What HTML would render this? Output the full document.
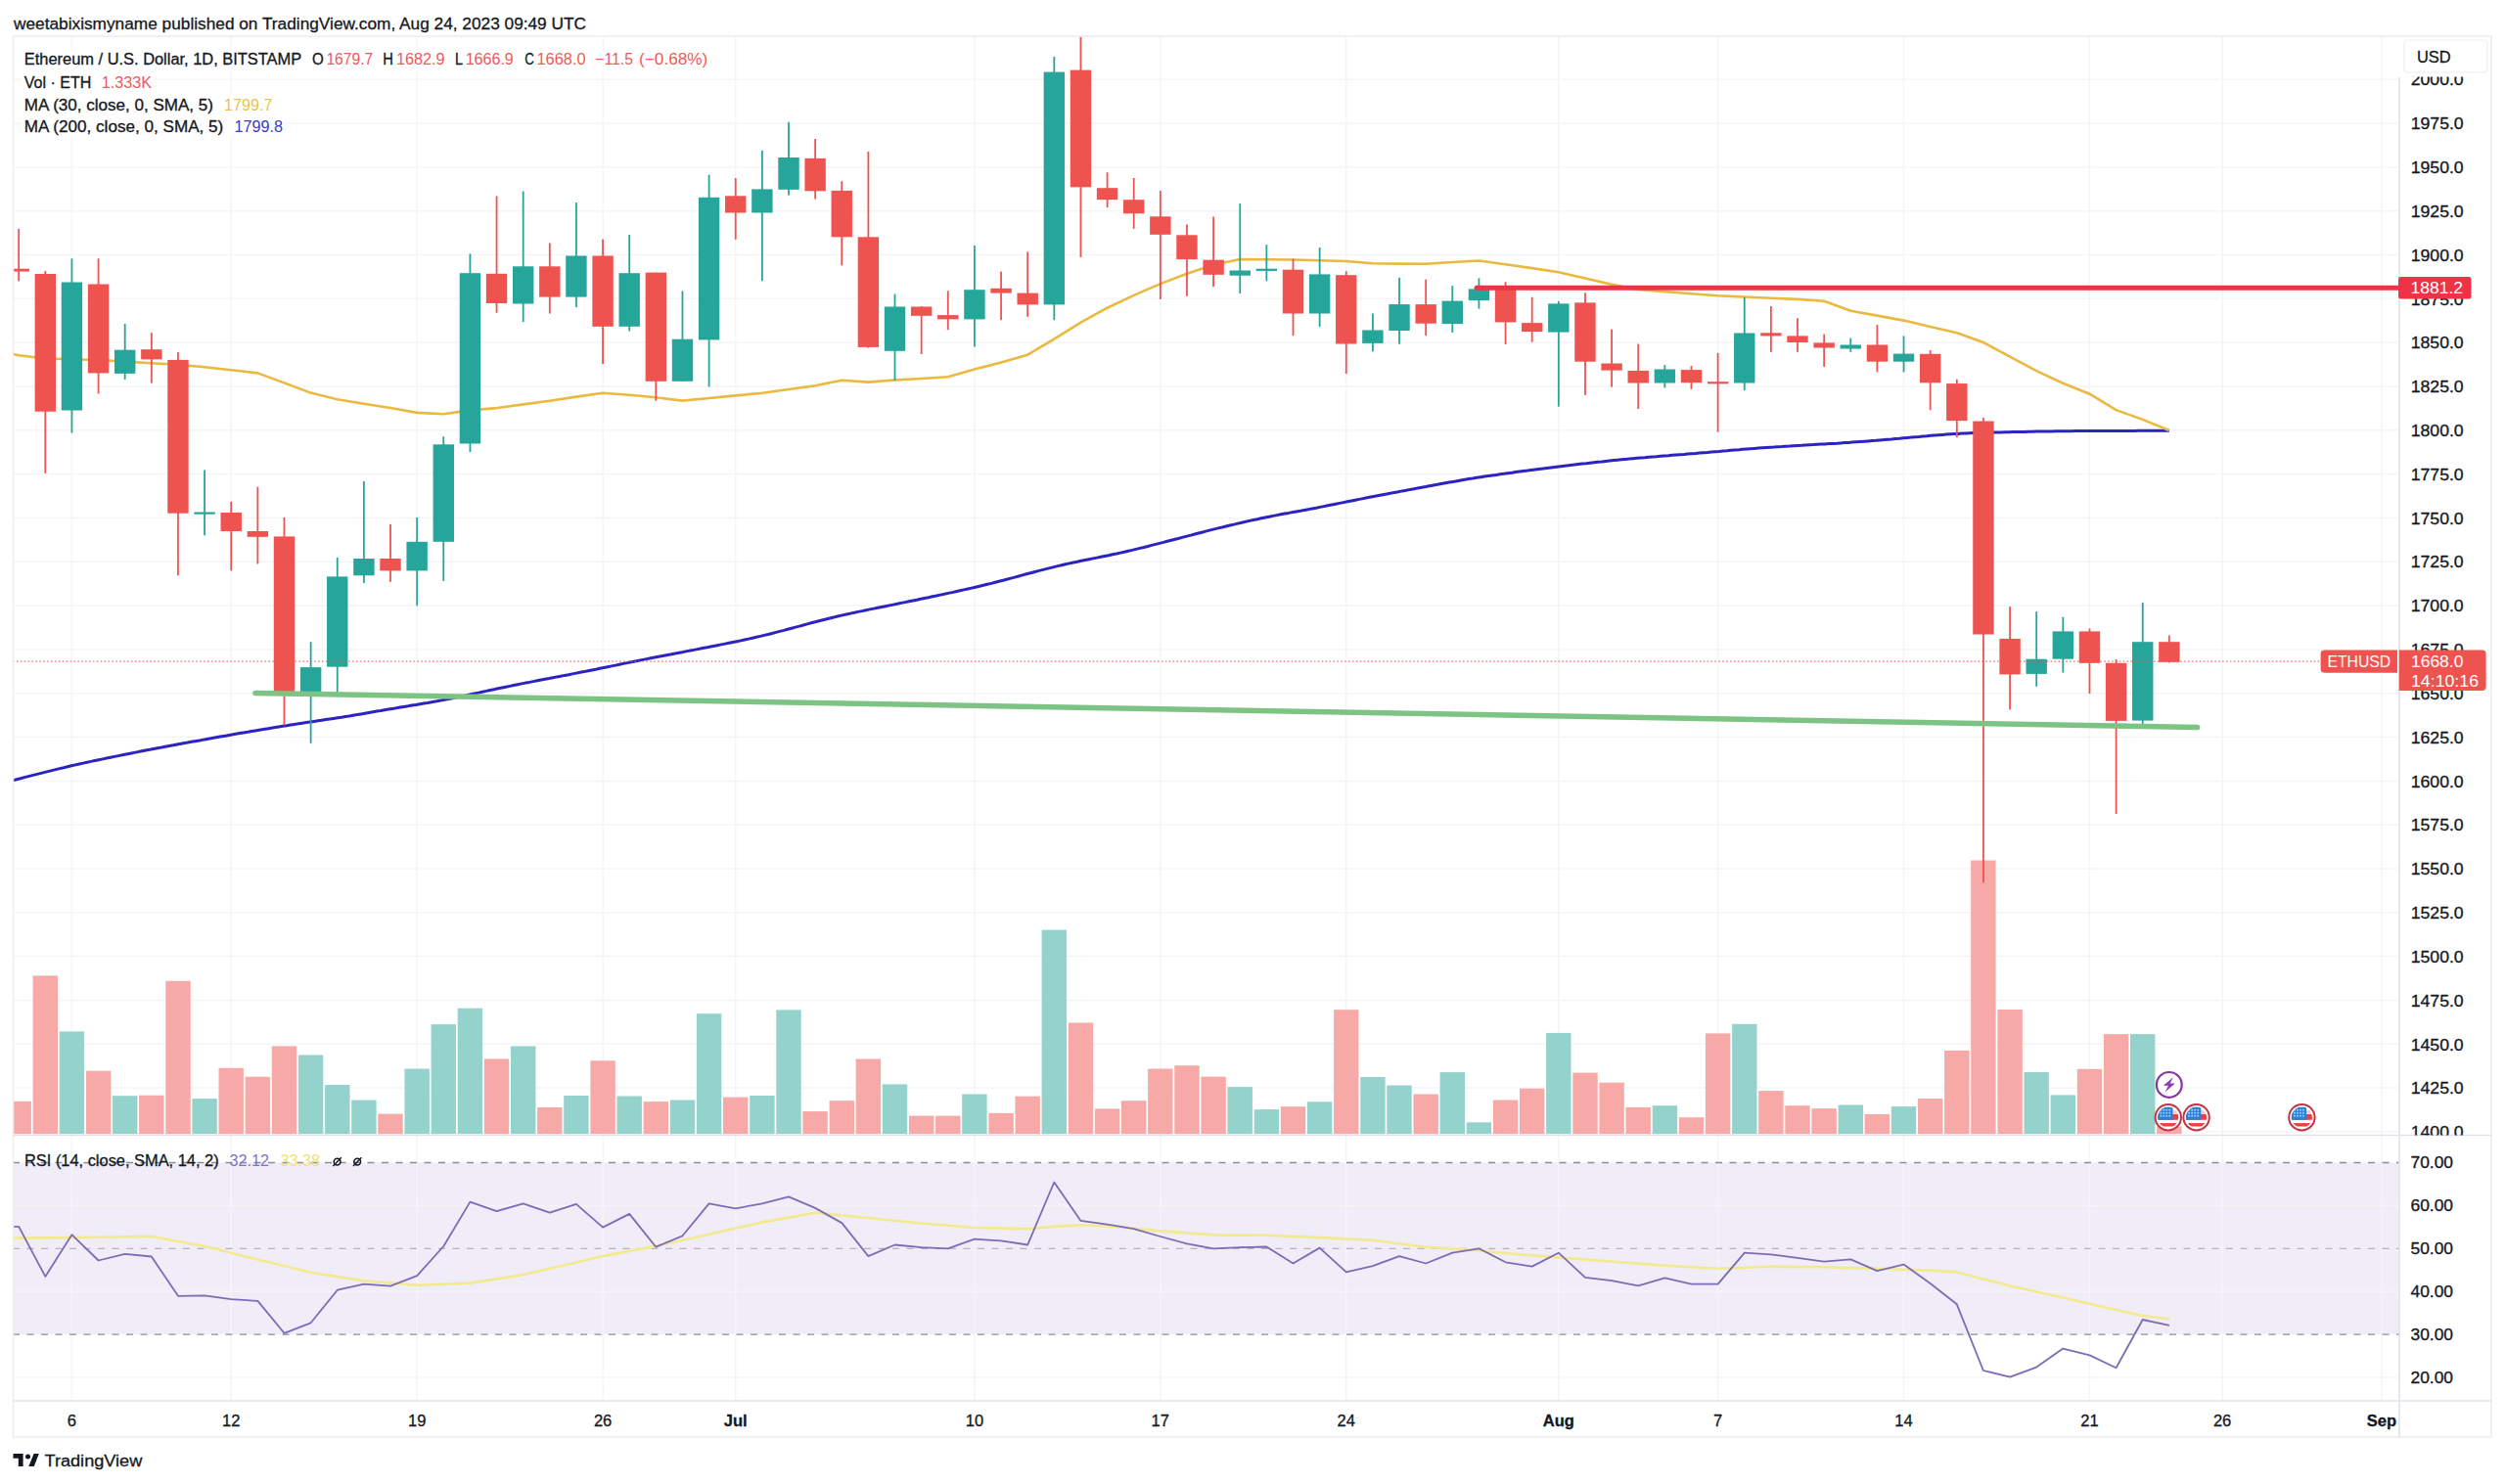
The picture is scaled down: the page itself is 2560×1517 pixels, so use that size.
<!DOCTYPE html>
<html><head><meta charset="utf-8"><style>html,body{margin:0;padding:0;background:#fff;width:2560px;height:1517px;overflow:hidden}svg{display:block}</style></head>
<body>
<svg width="2560" height="1517" viewBox="0 0 2560 1517" font-family="Liberation Sans, sans-serif">
<defs><style>text{paint-order:stroke;stroke-width:0.3px;stroke-linejoin:round}</style>
<clipPath id="cp"><rect x="13" y="37" width="2439" height="1123.5"/></clipPath>
<clipPath id="cr"><rect x="13" y="1161" width="2439" height="271"/></clipPath>
<clipPath id="ax"><rect x="2453" y="37" width="93" height="1123.5"/></clipPath>
</defs>
<rect width="2560" height="1517" fill="#ffffff"/>
<text x="14" y="29.5" font-size="17.2" fill="#131722" stroke="#131722" textLength="585" lengthAdjust="spacingAndGlyphs">weetabixismyname published on TradingView.com, Aug 24, 2023 09:49 UTC</text>
<rect x="13" y="1188.5" width="2439" height="175.6" fill="#f0ecf8"/>
<path d="M13 81.2H2452 M13 126.0H2452 M13 170.8H2452 M13 215.7H2452 M13 260.5H2452 M13 305.3H2452 M13 350.1H2452 M13 395.0H2452 M13 439.8H2452 M13 484.6H2452 M13 529.4H2452 M13 574.2H2452 M13 619.1H2452 M13 663.9H2452 M13 708.7H2452 M13 753.5H2452 M13 798.4H2452 M13 843.2H2452 M13 888.0H2452 M13 932.8H2452 M13 977.6H2452 M13 1022.5H2452 M13 1067.3H2452 M13 1112.1H2452 M13 1156.9H2452 M13 1232.4H2452 M13 1320.2H2452 M13 1408.0H2452 M73.4 37V1432 M236.2 37V1432 M426.2 37V1432 M616.1 37V1432 M751.7 37V1432 M995.9 37V1432 M1185.8 37V1432 M1375.8 37V1432 M1592.8 37V1432 M1755.6 37V1432 M1945.5 37V1432 M2135.5 37V1432 M2271.1 37V1432 M2433.9 37V1432" stroke="#f5f5f7" stroke-width="1.5" fill="none"/>
<rect x="22" y="49.9" width="705" height="22.6" fill="#ffffff"/>
<rect x="22" y="73.0" width="135" height="22.6" fill="#ffffff"/>
<rect x="22" y="96.1" width="259" height="22.6" fill="#ffffff"/>
<rect x="22" y="118.7" width="270" height="22.6" fill="#ffffff"/>
<path d="M13 1188.5H2452" stroke="#8a8d96" stroke-width="1.3" stroke-dasharray="7 7.5" fill="none"/>
<path d="M13 1276.3H2452" stroke="#b4b3bd" stroke-width="1.3" stroke-dasharray="7 7.5" fill="none"/>
<path d="M13 1364.1H2452" stroke="#8a8d96" stroke-width="1.3" stroke-dasharray="7 7.5" fill="none"/>
<g clip-path="url(#cp)">
<rect x="6.5" y="1125.8" width="25.4" height="33.4" fill="#f7a9a7"/>
<rect x="33.6" y="997.4" width="25.4" height="161.8" fill="#f7a9a7"/>
<rect x="60.7" y="1054.4" width="25.4" height="104.8" fill="#94d2cc"/>
<rect x="87.9" y="1094.7" width="25.4" height="64.5" fill="#f7a9a7"/>
<rect x="115.0" y="1120.2" width="25.4" height="39.0" fill="#94d2cc"/>
<rect x="142.1" y="1119.7" width="25.4" height="39.5" fill="#f7a9a7"/>
<rect x="169.3" y="1002.8" width="25.4" height="156.4" fill="#f7a9a7"/>
<rect x="196.4" y="1123.1" width="25.4" height="36.1" fill="#94d2cc"/>
<rect x="223.5" y="1091.8" width="25.4" height="67.4" fill="#f7a9a7"/>
<rect x="250.7" y="1100.7" width="25.4" height="58.5" fill="#f7a9a7"/>
<rect x="277.8" y="1069.4" width="25.4" height="89.8" fill="#f7a9a7"/>
<rect x="304.9" y="1078.4" width="25.4" height="80.8" fill="#94d2cc"/>
<rect x="332.1" y="1109.0" width="25.4" height="50.2" fill="#94d2cc"/>
<rect x="359.2" y="1124.6" width="25.4" height="34.6" fill="#94d2cc"/>
<rect x="386.3" y="1138.7" width="25.4" height="20.5" fill="#f7a9a7"/>
<rect x="413.5" y="1092.5" width="25.4" height="66.7" fill="#94d2cc"/>
<rect x="440.6" y="1047.1" width="25.4" height="112.1" fill="#94d2cc"/>
<rect x="467.7" y="1030.7" width="25.4" height="128.5" fill="#94d2cc"/>
<rect x="494.8" y="1082.4" width="25.4" height="76.8" fill="#f7a9a7"/>
<rect x="522.0" y="1069.4" width="25.4" height="89.8" fill="#94d2cc"/>
<rect x="549.1" y="1132.0" width="25.4" height="27.2" fill="#f7a9a7"/>
<rect x="576.2" y="1120.0" width="25.4" height="39.2" fill="#94d2cc"/>
<rect x="603.4" y="1084.3" width="25.4" height="74.9" fill="#f7a9a7"/>
<rect x="630.5" y="1120.5" width="25.4" height="38.7" fill="#94d2cc"/>
<rect x="657.6" y="1126.1" width="25.4" height="33.1" fill="#f7a9a7"/>
<rect x="684.8" y="1124.5" width="25.4" height="34.7" fill="#94d2cc"/>
<rect x="711.9" y="1036.2" width="25.4" height="123.0" fill="#94d2cc"/>
<rect x="739.0" y="1121.6" width="25.4" height="37.6" fill="#f7a9a7"/>
<rect x="766.2" y="1120.0" width="25.4" height="39.2" fill="#94d2cc"/>
<rect x="793.3" y="1032.4" width="25.4" height="126.8" fill="#94d2cc"/>
<rect x="820.4" y="1136.1" width="25.4" height="23.1" fill="#f7a9a7"/>
<rect x="847.6" y="1125.2" width="25.4" height="34.0" fill="#f7a9a7"/>
<rect x="874.7" y="1082.5" width="25.4" height="76.7" fill="#f7a9a7"/>
<rect x="901.8" y="1108.4" width="25.4" height="50.8" fill="#94d2cc"/>
<rect x="929.0" y="1140.6" width="25.4" height="18.6" fill="#f7a9a7"/>
<rect x="956.1" y="1140.6" width="25.4" height="18.6" fill="#f7a9a7"/>
<rect x="983.2" y="1118.5" width="25.4" height="40.7" fill="#94d2cc"/>
<rect x="1010.4" y="1137.9" width="25.4" height="21.3" fill="#f7a9a7"/>
<rect x="1037.5" y="1120.7" width="25.4" height="38.5" fill="#f7a9a7"/>
<rect x="1064.6" y="950.6" width="25.4" height="208.6" fill="#94d2cc"/>
<rect x="1091.8" y="1045.5" width="25.4" height="113.7" fill="#f7a9a7"/>
<rect x="1118.9" y="1133.4" width="25.4" height="25.8" fill="#f7a9a7"/>
<rect x="1146.0" y="1125.2" width="25.4" height="34.0" fill="#f7a9a7"/>
<rect x="1173.1" y="1092.5" width="25.4" height="66.7" fill="#f7a9a7"/>
<rect x="1200.3" y="1089.2" width="25.4" height="70.0" fill="#f7a9a7"/>
<rect x="1227.4" y="1100.6" width="25.4" height="58.6" fill="#f7a9a7"/>
<rect x="1254.5" y="1111.1" width="25.4" height="48.1" fill="#94d2cc"/>
<rect x="1281.7" y="1134.1" width="25.4" height="25.1" fill="#94d2cc"/>
<rect x="1308.8" y="1131.2" width="25.4" height="28.0" fill="#f7a9a7"/>
<rect x="1335.9" y="1126.3" width="25.4" height="32.9" fill="#94d2cc"/>
<rect x="1363.1" y="1032.2" width="25.4" height="127.0" fill="#f7a9a7"/>
<rect x="1390.2" y="1101.0" width="25.4" height="58.2" fill="#94d2cc"/>
<rect x="1417.3" y="1109.5" width="25.4" height="49.7" fill="#94d2cc"/>
<rect x="1444.5" y="1118.5" width="25.4" height="40.7" fill="#f7a9a7"/>
<rect x="1471.6" y="1096.1" width="25.4" height="63.1" fill="#94d2cc"/>
<rect x="1498.7" y="1147.3" width="25.4" height="11.9" fill="#94d2cc"/>
<rect x="1525.9" y="1124.5" width="25.4" height="34.7" fill="#f7a9a7"/>
<rect x="1553.0" y="1112.7" width="25.4" height="46.5" fill="#f7a9a7"/>
<rect x="1580.1" y="1055.9" width="25.4" height="103.3" fill="#94d2cc"/>
<rect x="1607.3" y="1096.6" width="25.4" height="62.6" fill="#f7a9a7"/>
<rect x="1634.4" y="1106.7" width="25.4" height="52.5" fill="#f7a9a7"/>
<rect x="1661.5" y="1131.9" width="25.4" height="27.3" fill="#f7a9a7"/>
<rect x="1688.7" y="1130.2" width="25.4" height="29.0" fill="#94d2cc"/>
<rect x="1715.8" y="1142.2" width="25.4" height="17.0" fill="#f7a9a7"/>
<rect x="1742.9" y="1056.4" width="25.4" height="102.8" fill="#f7a9a7"/>
<rect x="1770.1" y="1046.8" width="25.4" height="112.4" fill="#94d2cc"/>
<rect x="1797.2" y="1115.1" width="25.4" height="44.1" fill="#f7a9a7"/>
<rect x="1824.3" y="1130.2" width="25.4" height="29.0" fill="#f7a9a7"/>
<rect x="1851.4" y="1133.1" width="25.4" height="26.1" fill="#f7a9a7"/>
<rect x="1878.6" y="1129.5" width="25.4" height="29.7" fill="#94d2cc"/>
<rect x="1905.7" y="1139.0" width="25.4" height="20.2" fill="#f7a9a7"/>
<rect x="1932.8" y="1131.1" width="25.4" height="28.1" fill="#94d2cc"/>
<rect x="1960.0" y="1123.0" width="25.4" height="36.2" fill="#f7a9a7"/>
<rect x="1987.1" y="1073.9" width="25.4" height="85.3" fill="#f7a9a7"/>
<rect x="2014.2" y="879.5" width="25.4" height="279.7" fill="#f7a9a7"/>
<rect x="2041.4" y="1032.0" width="25.4" height="127.2" fill="#f7a9a7"/>
<rect x="2068.5" y="1095.9" width="25.4" height="63.3" fill="#94d2cc"/>
<rect x="2095.6" y="1119.4" width="25.4" height="39.8" fill="#94d2cc"/>
<rect x="2122.8" y="1092.8" width="25.4" height="66.4" fill="#f7a9a7"/>
<rect x="2149.9" y="1057.1" width="25.4" height="102.1" fill="#f7a9a7"/>
<rect x="2177.0" y="1057.1" width="25.4" height="102.1" fill="#94d2cc"/>
<rect x="2204.2" y="1151.5" width="25.4" height="7.7" fill="#f7a9a7"/>
<polyline points="13.0,797.7 17.0,796.7 21.0,795.7 25.0,794.6 29.0,793.6 33.0,792.6 37.0,791.6 41.0,790.6 45.0,789.6 49.0,788.6 53.0,787.6 57.0,786.6 61.0,785.6 65.0,784.7 69.0,783.7 73.0,782.8 77.0,781.9 81.0,781.0 85.0,780.1 89.0,779.2 93.0,778.4 97.0,777.5 101.0,776.7 105.0,775.9 109.0,775.0 113.0,774.2 117.0,773.4 121.0,772.6 125.0,771.8 129.0,771.0 133.0,770.2 137.0,769.4 141.0,768.6 145.0,767.8 149.0,767.0 153.0,766.3 157.0,765.5 161.0,764.7 165.0,764.0 169.0,763.2 173.0,762.5 177.0,761.8 181.0,761.0 185.0,760.3 189.0,759.6 193.0,758.8 197.0,758.1 201.0,757.4 205.0,756.7 209.0,755.9 213.0,755.2 217.0,754.5 221.0,753.8 225.0,753.1 229.0,752.4 233.0,751.7 237.0,751.0 241.0,750.3 245.0,749.6 249.0,748.9 253.0,748.3 257.0,747.6 261.0,746.9 265.0,746.2 269.0,745.6 273.0,744.9 277.0,744.2 281.0,743.6 285.0,742.9 289.0,742.3 293.0,741.7 297.0,741.0 301.0,740.4 305.0,739.8 309.0,739.2 313.0,738.6 317.0,738.0 321.0,737.4 325.0,736.8 329.0,736.2 333.0,735.6 337.0,735.0 341.0,734.4 345.0,733.8 349.0,733.2 353.0,732.5 357.0,731.9 361.0,731.2 365.0,730.6 369.0,729.9 373.0,729.2 377.0,728.5 381.0,727.8 385.0,727.1 389.0,726.5 393.0,725.8 397.0,725.1 401.0,724.4 405.0,723.8 409.0,723.1 413.0,722.4 417.0,721.8 421.0,721.1 425.0,720.5 429.0,719.8 433.0,719.1 437.0,718.5 441.0,717.8 445.0,717.1 449.0,716.3 453.0,715.6 457.0,714.8 461.0,714.0 465.0,713.2 469.0,712.4 473.0,711.5 477.0,710.7 481.0,709.8 485.0,708.9 489.0,708.1 493.0,707.2 497.0,706.4 501.0,705.5 505.0,704.7 509.0,703.8 513.0,703.0 517.0,702.2 521.0,701.4 525.0,700.5 529.0,699.7 533.0,698.9 537.0,698.1 541.0,697.4 545.0,696.6 549.0,695.8 553.0,695.0 557.0,694.2 561.0,693.5 565.0,692.7 569.0,691.9 573.0,691.2 577.0,690.4 581.0,689.7 585.0,688.9 589.0,688.1 593.0,687.3 597.0,686.6 601.0,685.8 605.0,685.0 609.0,684.2 613.0,683.3 617.0,682.5 621.0,681.7 625.0,680.9 629.0,680.1 633.0,679.2 637.0,678.4 641.0,677.6 645.0,676.8 649.0,676.0 653.0,675.2 657.0,674.4 661.0,673.6 665.0,672.8 669.0,672.0 673.0,671.2 677.0,670.5 681.0,669.7 685.0,669.0 689.0,668.2 693.0,667.4 697.0,666.7 701.0,665.9 705.0,665.1 709.0,664.4 713.0,663.6 717.0,662.8 721.0,662.1 725.0,661.3 729.0,660.5 733.0,659.7 737.0,658.9 741.0,658.1 745.0,657.3 749.0,656.5 753.0,655.7 757.0,654.9 761.0,654.0 765.0,653.1 769.0,652.2 773.0,651.3 777.0,650.4 781.0,649.4 785.0,648.5 789.0,647.5 793.0,646.4 797.0,645.4 801.0,644.4 805.0,643.3 809.0,642.2 813.0,641.1 817.0,640.1 821.0,639.0 825.0,637.9 829.0,636.8 833.0,635.8 837.0,634.7 841.0,633.7 845.0,632.7 849.0,631.7 853.0,630.8 857.0,629.8 861.0,628.9 865.0,628.0 869.0,627.1 873.0,626.3 877.0,625.4 881.0,624.6 885.0,623.7 889.0,622.9 893.0,622.1 897.0,621.3 901.0,620.5 905.0,619.7 909.0,618.9 913.0,618.1 917.0,617.3 921.0,616.4 925.0,615.6 929.0,614.8 933.0,614.0 937.0,613.2 941.0,612.3 945.0,611.5 949.0,610.7 953.0,609.8 957.0,609.0 961.0,608.1 965.0,607.3 969.0,606.4 973.0,605.6 977.0,604.7 981.0,603.8 985.0,602.9 989.0,602.0 993.0,601.1 997.0,600.2 1001.0,599.3 1005.0,598.3 1009.0,597.3 1013.0,596.4 1017.0,595.3 1021.0,594.3 1025.0,593.3 1029.0,592.2 1033.0,591.1 1037.0,590.1 1041.0,589.0 1045.0,587.9 1049.0,586.8 1053.0,585.8 1057.0,584.7 1061.0,583.6 1065.0,582.6 1069.0,581.6 1073.0,580.6 1077.0,579.6 1081.0,578.6 1085.0,577.7 1089.0,576.8 1093.0,575.9 1097.0,575.0 1101.0,574.2 1105.0,573.3 1109.0,572.5 1113.0,571.7 1117.0,570.9 1121.0,570.1 1125.0,569.3 1129.0,568.5 1133.0,567.7 1137.0,566.8 1141.0,566.0 1145.0,565.1 1149.0,564.2 1153.0,563.3 1157.0,562.4 1161.0,561.4 1165.0,560.4 1169.0,559.5 1173.0,558.5 1177.0,557.4 1181.0,556.4 1185.0,555.4 1189.0,554.4 1193.0,553.3 1197.0,552.3 1201.0,551.2 1205.0,550.2 1209.0,549.1 1213.0,548.1 1217.0,547.1 1221.0,546.0 1225.0,545.0 1229.0,544.0 1233.0,542.9 1237.0,541.9 1241.0,540.9 1245.0,539.9 1249.0,539.0 1253.0,538.0 1257.0,537.0 1261.0,536.1 1265.0,535.1 1269.0,534.2 1273.0,533.3 1277.0,532.4 1281.0,531.5 1285.0,530.7 1289.0,529.8 1293.0,529.0 1297.0,528.2 1301.0,527.4 1305.0,526.6 1309.0,525.8 1313.0,525.1 1317.0,524.4 1321.0,523.6 1325.0,522.9 1329.0,522.2 1333.0,521.4 1337.0,520.7 1341.0,519.9 1345.0,519.2 1349.0,518.4 1353.0,517.6 1357.0,516.8 1361.0,516.0 1365.0,515.2 1369.0,514.4 1373.0,513.6 1377.0,512.8 1381.0,512.0 1385.0,511.2 1389.0,510.4 1393.0,509.6 1397.0,508.8 1401.0,508.0 1405.0,507.3 1409.0,506.5 1413.0,505.7 1417.0,505.0 1421.0,504.2 1425.0,503.4 1429.0,502.7 1433.0,501.9 1437.0,501.2 1441.0,500.4 1445.0,499.7 1449.0,498.9 1453.0,498.2 1457.0,497.5 1461.0,496.7 1465.0,496.0 1469.0,495.3 1473.0,494.5 1477.0,493.8 1481.0,493.1 1485.0,492.4 1489.0,491.7 1493.0,491.0 1497.0,490.3 1501.0,489.6 1505.0,489.0 1509.0,488.3 1513.0,487.7 1517.0,487.1 1521.0,486.5 1525.0,485.9 1529.0,485.4 1533.0,484.8 1537.0,484.3 1541.0,483.7 1545.0,483.2 1549.0,482.6 1553.0,482.1 1557.0,481.6 1561.0,481.1 1565.0,480.5 1569.0,480.0 1573.0,479.5 1577.0,479.0 1581.0,478.5 1585.0,478.0 1589.0,477.5 1593.0,477.0 1597.0,476.5 1601.0,476.0 1605.0,475.5 1609.0,475.1 1613.0,474.6 1617.0,474.1 1621.0,473.7 1625.0,473.2 1629.0,472.7 1633.0,472.3 1637.0,471.9 1641.0,471.4 1645.0,471.0 1649.0,470.6 1653.0,470.2 1657.0,469.8 1661.0,469.4 1665.0,469.1 1669.0,468.7 1673.0,468.3 1677.0,468.0 1681.0,467.7 1685.0,467.3 1689.0,467.0 1693.0,466.7 1697.0,466.3 1701.0,466.0 1705.0,465.7 1709.0,465.3 1713.0,465.0 1717.0,464.7 1721.0,464.4 1725.0,464.0 1729.0,463.7 1733.0,463.4 1737.0,463.0 1741.0,462.7 1745.0,462.4 1749.0,462.0 1753.0,461.7 1757.0,461.4 1761.0,461.0 1765.0,460.7 1769.0,460.3 1773.0,460.0 1777.0,459.7 1781.0,459.3 1785.0,459.0 1789.0,458.7 1793.0,458.4 1797.0,458.1 1801.0,457.8 1805.0,457.5 1809.0,457.2 1813.0,457.0 1817.0,456.7 1821.0,456.5 1825.0,456.2 1829.0,456.0 1833.0,455.7 1837.0,455.5 1841.0,455.3 1845.0,455.0 1849.0,454.8 1853.0,454.6 1857.0,454.3 1861.0,454.1 1865.0,453.9 1869.0,453.6 1873.0,453.4 1877.0,453.2 1881.0,452.9 1885.0,452.6 1889.0,452.4 1893.0,452.1 1897.0,451.8 1901.0,451.5 1905.0,451.2 1909.0,450.9 1913.0,450.6 1917.0,450.3 1921.0,449.9 1925.0,449.6 1929.0,449.2 1933.0,448.9 1937.0,448.5 1941.0,448.2 1945.0,447.8 1949.0,447.4 1953.0,447.1 1957.0,446.7 1961.0,446.4 1965.0,446.0 1969.0,445.7 1973.0,445.3 1977.0,445.0 1981.0,444.7 1985.0,444.4 1989.0,444.1 1993.0,443.8 1997.0,443.6 2001.0,443.4 2005.0,443.1 2009.0,443.0 2013.0,442.8 2017.0,442.6 2021.0,442.5 2025.0,442.4 2029.0,442.3 2033.0,442.1 2037.0,442.0 2041.0,442.0 2045.0,441.9 2049.0,441.8 2053.0,441.7 2057.0,441.6 2061.0,441.5 2065.0,441.4 2069.0,441.4 2073.0,441.3 2077.0,441.2 2081.0,441.1 2085.0,441.1 2089.0,441.0 2093.0,440.9 2097.0,440.9 2101.0,440.8 2105.0,440.8 2109.0,440.7 2113.0,440.7 2117.0,440.7 2121.0,440.6 2125.0,440.6 2129.0,440.6 2133.0,440.6 2137.0,440.5 2141.0,440.5 2145.0,440.5 2149.0,440.5 2153.0,440.5 2157.0,440.5 2161.0,440.4 2165.0,440.4 2169.0,440.4 2173.0,440.4 2177.0,440.4 2181.0,440.4 2185.0,440.3 2189.0,440.3 2193.0,440.3 2197.0,440.3 2201.0,440.3 2205.0,440.3 2209.0,440.2 2213.0,440.2 2217.0,440.2" stroke="#2b23c2" stroke-width="3" fill="none" stroke-linejoin="round"/>
<polyline points="13.0,362.0 19.2,363.2 46.3,366.5 73.4,367.3 100.6,368.0 127.7,369.6 154.8,371.2 182.0,372.8 209.1,375.2 236.2,378.3 263.4,381.4 290.5,391.4 317.6,401.6 344.8,408.3 371.9,412.7 399.0,417.0 426.2,421.9 453.3,423.3 480.4,419.4 507.5,417.1 534.7,413.4 561.8,409.7 588.9,405.6 616.1,401.8 643.2,403.8 670.3,406.3 697.5,409.6 724.6,407.0 751.7,404.4 778.9,401.8 806.0,398.0 833.1,394.2 860.3,388.7 887.4,390.6 914.5,388.5 941.7,387.0 968.8,385.3 995.9,377.5 1023.1,370.5 1050.2,362.7 1077.3,346.6 1104.5,329.6 1131.6,314.7 1158.7,301.9 1185.8,290.1 1213.0,279.7 1240.1,270.8 1267.2,265.1 1294.4,265.2 1321.5,265.5 1348.6,266.2 1375.8,267.0 1402.9,269.2 1430.0,269.6 1457.2,269.8 1484.3,268.0 1511.4,266.5 1538.6,270.2 1565.7,274.1 1592.8,278.2 1620.0,284.6 1647.1,290.8 1674.2,295.9 1701.4,298.1 1728.5,300.2 1755.6,302.3 1782.8,303.5 1809.9,304.7 1837.0,305.9 1864.1,307.8 1891.3,317.7 1918.4,322.6 1945.5,327.6 1972.7,333.9 1999.8,340.3 2026.9,350.0 2054.1,364.7 2081.2,379.1 2108.3,391.7 2135.5,402.7 2162.6,419.1 2189.7,428.9 2216.9,440.0" stroke="#eab93e" stroke-width="2.6" fill="none" stroke-linejoin="round"/>
<rect x="18.27" y="234.0" width="1.8" height="53.3" fill="#ef5350"/>
<rect x="8.47" y="274.7" width="21.4" height="2.9" fill="#ef5350"/>
<rect x="45.40" y="277.0" width="1.8" height="206.8" fill="#ef5350"/>
<rect x="35.60" y="280.0" width="21.4" height="140.7" fill="#ef5350"/>
<rect x="72.53" y="264.3" width="1.8" height="178.3" fill="#26a69a"/>
<rect x="62.73" y="288.5" width="21.4" height="131.0" fill="#26a69a"/>
<rect x="99.67" y="264.3" width="1.8" height="138.2" fill="#ef5350"/>
<rect x="89.87" y="290.5" width="21.4" height="90.9" fill="#ef5350"/>
<rect x="126.80" y="331.0" width="1.8" height="57.0" fill="#26a69a"/>
<rect x="117.00" y="357.7" width="21.4" height="24.2" fill="#26a69a"/>
<rect x="153.93" y="340.2" width="1.8" height="51.4" fill="#ef5350"/>
<rect x="144.13" y="357.2" width="21.4" height="10.2" fill="#ef5350"/>
<rect x="181.06" y="360.0" width="1.8" height="228.3" fill="#ef5350"/>
<rect x="171.26" y="367.9" width="21.4" height="156.8" fill="#ef5350"/>
<rect x="208.19" y="480.5" width="1.8" height="66.8" fill="#26a69a"/>
<rect x="198.39" y="523.5" width="21.4" height="2.2" fill="#26a69a"/>
<rect x="235.33" y="512.8" width="1.8" height="70.6" fill="#ef5350"/>
<rect x="225.53" y="524.0" width="21.4" height="19.0" fill="#ef5350"/>
<rect x="262.46" y="497.7" width="1.8" height="78.8" fill="#ef5350"/>
<rect x="252.66" y="543.0" width="21.4" height="5.8" fill="#ef5350"/>
<rect x="289.59" y="529.0" width="1.8" height="212.4" fill="#ef5350"/>
<rect x="279.79" y="548.4" width="21.4" height="158.5" fill="#ef5350"/>
<rect x="316.72" y="656.2" width="1.8" height="103.6" fill="#26a69a"/>
<rect x="306.92" y="682.1" width="21.4" height="26.9" fill="#26a69a"/>
<rect x="343.85" y="570.0" width="1.8" height="141.2" fill="#26a69a"/>
<rect x="334.05" y="589.4" width="21.4" height="92.3" fill="#26a69a"/>
<rect x="370.99" y="491.9" width="1.8" height="104.0" fill="#26a69a"/>
<rect x="361.19" y="571.0" width="21.4" height="17.3" fill="#26a69a"/>
<rect x="398.12" y="535.9" width="1.8" height="58.9" fill="#ef5350"/>
<rect x="388.32" y="571.0" width="21.4" height="12.4" fill="#ef5350"/>
<rect x="425.25" y="529.0" width="1.8" height="90.3" fill="#26a69a"/>
<rect x="415.45" y="553.8" width="21.4" height="29.6" fill="#26a69a"/>
<rect x="452.38" y="446.3" width="1.8" height="147.6" fill="#26a69a"/>
<rect x="442.58" y="454.3" width="21.4" height="99.5" fill="#26a69a"/>
<rect x="479.51" y="259.4" width="1.8" height="202.7" fill="#26a69a"/>
<rect x="469.71" y="279.2" width="21.4" height="174.3" fill="#26a69a"/>
<rect x="506.65" y="200.5" width="1.8" height="119.2" fill="#ef5350"/>
<rect x="496.85" y="279.8" width="21.4" height="30.2" fill="#ef5350"/>
<rect x="533.78" y="195.5" width="1.8" height="133.7" fill="#26a69a"/>
<rect x="523.98" y="272.3" width="21.4" height="38.2" fill="#26a69a"/>
<rect x="560.91" y="248.6" width="1.8" height="72.0" fill="#ef5350"/>
<rect x="551.11" y="272.3" width="21.4" height="31.3" fill="#ef5350"/>
<rect x="588.04" y="207.0" width="1.8" height="107.1" fill="#26a69a"/>
<rect x="578.24" y="261.5" width="21.4" height="42.1" fill="#26a69a"/>
<rect x="615.17" y="244.7" width="1.8" height="127.3" fill="#ef5350"/>
<rect x="605.37" y="261.5" width="21.4" height="72.3" fill="#ef5350"/>
<rect x="642.31" y="240.0" width="1.8" height="98.5" fill="#26a69a"/>
<rect x="632.51" y="279.2" width="21.4" height="54.6" fill="#26a69a"/>
<rect x="669.44" y="278.6" width="1.8" height="131.1" fill="#ef5350"/>
<rect x="659.64" y="278.6" width="21.4" height="111.2" fill="#ef5350"/>
<rect x="696.57" y="297.5" width="1.8" height="92.3" fill="#26a69a"/>
<rect x="686.77" y="346.7" width="21.4" height="43.1" fill="#26a69a"/>
<rect x="723.70" y="178.7" width="1.8" height="216.7" fill="#26a69a"/>
<rect x="713.90" y="201.8" width="21.4" height="145.6" fill="#26a69a"/>
<rect x="750.83" y="182.0" width="1.8" height="62.9" fill="#ef5350"/>
<rect x="741.03" y="200.3" width="21.4" height="17.2" fill="#ef5350"/>
<rect x="777.97" y="153.9" width="1.8" height="133.3" fill="#26a69a"/>
<rect x="768.17" y="193.4" width="21.4" height="24.1" fill="#26a69a"/>
<rect x="805.10" y="124.8" width="1.8" height="74.8" fill="#26a69a"/>
<rect x="795.30" y="161.0" width="21.4" height="32.8" fill="#26a69a"/>
<rect x="832.23" y="142.0" width="1.8" height="61.5" fill="#ef5350"/>
<rect x="822.43" y="161.9" width="21.4" height="33.4" fill="#ef5350"/>
<rect x="859.36" y="185.2" width="1.8" height="86.2" fill="#ef5350"/>
<rect x="849.56" y="194.9" width="21.4" height="47.4" fill="#ef5350"/>
<rect x="886.49" y="155.0" width="1.8" height="200.6" fill="#ef5350"/>
<rect x="876.69" y="242.3" width="21.4" height="112.6" fill="#ef5350"/>
<rect x="913.63" y="300.6" width="1.8" height="88.4" fill="#26a69a"/>
<rect x="903.83" y="313.5" width="21.4" height="45.3" fill="#26a69a"/>
<rect x="940.76" y="313.0" width="1.8" height="49.0" fill="#ef5350"/>
<rect x="930.96" y="313.5" width="21.4" height="9.3" fill="#ef5350"/>
<rect x="967.89" y="297.3" width="1.8" height="39.9" fill="#ef5350"/>
<rect x="958.09" y="322.1" width="21.4" height="4.3" fill="#ef5350"/>
<rect x="995.02" y="251.0" width="1.8" height="103.5" fill="#26a69a"/>
<rect x="985.22" y="296.2" width="21.4" height="30.2" fill="#26a69a"/>
<rect x="1022.15" y="277.6" width="1.8" height="49.6" fill="#ef5350"/>
<rect x="1012.35" y="294.8" width="21.4" height="4.8" fill="#ef5350"/>
<rect x="1049.29" y="257.5" width="1.8" height="66.2" fill="#ef5350"/>
<rect x="1039.49" y="299.6" width="21.4" height="11.8" fill="#ef5350"/>
<rect x="1076.42" y="58.0" width="1.8" height="269.2" fill="#26a69a"/>
<rect x="1066.62" y="73.6" width="21.4" height="237.8" fill="#26a69a"/>
<rect x="1103.55" y="36.5" width="1.8" height="226.4" fill="#ef5350"/>
<rect x="1093.75" y="71.6" width="21.4" height="119.7" fill="#ef5350"/>
<rect x="1130.68" y="176.2" width="1.8" height="36.0" fill="#ef5350"/>
<rect x="1120.88" y="192.2" width="21.4" height="12.0" fill="#ef5350"/>
<rect x="1157.81" y="182.0" width="1.8" height="51.8" fill="#ef5350"/>
<rect x="1148.01" y="204.2" width="21.4" height="14.1" fill="#ef5350"/>
<rect x="1184.95" y="195.0" width="1.8" height="111.0" fill="#ef5350"/>
<rect x="1175.15" y="221.3" width="21.4" height="18.5" fill="#ef5350"/>
<rect x="1212.08" y="229.5" width="1.8" height="73.3" fill="#ef5350"/>
<rect x="1202.28" y="240.3" width="21.4" height="24.8" fill="#ef5350"/>
<rect x="1239.21" y="221.5" width="1.8" height="71.6" fill="#ef5350"/>
<rect x="1229.41" y="265.7" width="21.4" height="15.1" fill="#ef5350"/>
<rect x="1266.34" y="208.1" width="1.8" height="91.9" fill="#26a69a"/>
<rect x="1256.54" y="276.5" width="21.4" height="5.2" fill="#26a69a"/>
<rect x="1293.47" y="250.1" width="1.8" height="37.2" fill="#26a69a"/>
<rect x="1283.67" y="274.7" width="21.4" height="2.2" fill="#26a69a"/>
<rect x="1320.61" y="264.7" width="1.8" height="78.4" fill="#ef5350"/>
<rect x="1310.81" y="275.7" width="21.4" height="44.8" fill="#ef5350"/>
<rect x="1347.74" y="253.0" width="1.8" height="81.2" fill="#26a69a"/>
<rect x="1337.94" y="280.4" width="21.4" height="40.1" fill="#26a69a"/>
<rect x="1374.87" y="277.3" width="1.8" height="104.7" fill="#ef5350"/>
<rect x="1365.07" y="281.2" width="21.4" height="70.3" fill="#ef5350"/>
<rect x="1402.00" y="320.5" width="1.8" height="38.8" fill="#26a69a"/>
<rect x="1392.20" y="337.5" width="21.4" height="13.4" fill="#26a69a"/>
<rect x="1429.13" y="283.8" width="1.8" height="67.9" fill="#26a69a"/>
<rect x="1419.33" y="311.1" width="21.4" height="26.9" fill="#26a69a"/>
<rect x="1456.27" y="285.7" width="1.8" height="57.4" fill="#ef5350"/>
<rect x="1446.47" y="311.1" width="21.4" height="19.6" fill="#ef5350"/>
<rect x="1483.40" y="292.2" width="1.8" height="47.7" fill="#26a69a"/>
<rect x="1473.60" y="307.6" width="21.4" height="23.4" fill="#26a69a"/>
<rect x="1510.53" y="284.4" width="1.8" height="31.2" fill="#26a69a"/>
<rect x="1500.73" y="295.4" width="21.4" height="11.7" fill="#26a69a"/>
<rect x="1537.66" y="288.2" width="1.8" height="63.7" fill="#ef5350"/>
<rect x="1527.86" y="294.1" width="21.4" height="35.3" fill="#ef5350"/>
<rect x="1564.79" y="303.7" width="1.8" height="46.0" fill="#ef5350"/>
<rect x="1554.99" y="330.1" width="21.4" height="8.9" fill="#ef5350"/>
<rect x="1591.93" y="307.9" width="1.8" height="107.7" fill="#26a69a"/>
<rect x="1582.13" y="310.4" width="21.4" height="29.2" fill="#26a69a"/>
<rect x="1619.06" y="299.3" width="1.8" height="104.5" fill="#ef5350"/>
<rect x="1609.26" y="309.4" width="21.4" height="60.3" fill="#ef5350"/>
<rect x="1646.19" y="336.6" width="1.8" height="59.0" fill="#ef5350"/>
<rect x="1636.39" y="371.5" width="21.4" height="7.1" fill="#ef5350"/>
<rect x="1673.32" y="351.5" width="1.8" height="66.4" fill="#ef5350"/>
<rect x="1663.52" y="378.9" width="21.4" height="12.6" fill="#ef5350"/>
<rect x="1700.45" y="373.1" width="1.8" height="23.3" fill="#26a69a"/>
<rect x="1690.65" y="377.5" width="21.4" height="14.0" fill="#26a69a"/>
<rect x="1727.59" y="374.1" width="1.8" height="23.7" fill="#ef5350"/>
<rect x="1717.79" y="378.1" width="21.4" height="13.1" fill="#ef5350"/>
<rect x="1754.72" y="360.8" width="1.8" height="80.8" fill="#ef5350"/>
<rect x="1744.92" y="390.2" width="21.4" height="2.2" fill="#ef5350"/>
<rect x="1781.85" y="304.0" width="1.8" height="94.9" fill="#26a69a"/>
<rect x="1772.05" y="340.5" width="21.4" height="51.0" fill="#26a69a"/>
<rect x="1808.98" y="313.0" width="1.8" height="46.8" fill="#ef5350"/>
<rect x="1799.18" y="340.3" width="21.4" height="3.1" fill="#ef5350"/>
<rect x="1836.11" y="325.2" width="1.8" height="34.6" fill="#ef5350"/>
<rect x="1826.31" y="343.4" width="21.4" height="6.6" fill="#ef5350"/>
<rect x="1863.25" y="341.6" width="1.8" height="33.3" fill="#ef5350"/>
<rect x="1853.45" y="350.4" width="21.4" height="5.1" fill="#ef5350"/>
<rect x="1890.38" y="345.6" width="1.8" height="14.2" fill="#26a69a"/>
<rect x="1880.58" y="352.5" width="21.4" height="4.0" fill="#26a69a"/>
<rect x="1917.51" y="331.9" width="1.8" height="48.5" fill="#ef5350"/>
<rect x="1907.71" y="352.5" width="21.4" height="17.2" fill="#ef5350"/>
<rect x="1944.64" y="343.4" width="1.8" height="37.0" fill="#26a69a"/>
<rect x="1934.84" y="361.6" width="21.4" height="8.1" fill="#26a69a"/>
<rect x="1971.77" y="357.9" width="1.8" height="61.3" fill="#ef5350"/>
<rect x="1961.97" y="361.8" width="21.4" height="29.5" fill="#ef5350"/>
<rect x="1998.91" y="387.7" width="1.8" height="59.4" fill="#ef5350"/>
<rect x="1989.11" y="392.1" width="21.4" height="38.0" fill="#ef5350"/>
<rect x="2026.04" y="427.0" width="1.8" height="475.4" fill="#ef5350"/>
<rect x="2016.24" y="430.5" width="21.4" height="218.0" fill="#ef5350"/>
<rect x="2053.17" y="620.2" width="1.8" height="105.1" fill="#ef5350"/>
<rect x="2043.37" y="652.9" width="21.4" height="36.5" fill="#ef5350"/>
<rect x="2080.30" y="625.2" width="1.8" height="76.6" fill="#26a69a"/>
<rect x="2070.50" y="673.7" width="21.4" height="15.2" fill="#26a69a"/>
<rect x="2107.43" y="630.7" width="1.8" height="56.9" fill="#26a69a"/>
<rect x="2097.63" y="645.4" width="21.4" height="28.3" fill="#26a69a"/>
<rect x="2134.57" y="642.4" width="1.8" height="66.7" fill="#ef5350"/>
<rect x="2124.77" y="645.4" width="21.4" height="32.4" fill="#ef5350"/>
<rect x="2161.70" y="674.0" width="1.8" height="158.0" fill="#ef5350"/>
<rect x="2151.90" y="677.8" width="21.4" height="59.1" fill="#ef5350"/>
<rect x="2188.83" y="616.1" width="1.8" height="128.6" fill="#26a69a"/>
<rect x="2179.03" y="656.2" width="21.4" height="80.4" fill="#26a69a"/>
<rect x="2215.96" y="649.5" width="1.8" height="28.0" fill="#ef5350"/>
<rect x="2206.16" y="656.2" width="21.4" height="20.6" fill="#ef5350"/>
<path d="M13 676.2H2372" stroke="#ef5350" stroke-width="1.2" stroke-dasharray="1.6 2.3" fill="none" opacity="0.85"/>
<path d="M261 708.4L2245.6 743.4" stroke="#7dc383" stroke-width="5.5" stroke-linecap="round" fill="none"/>
<path d="M1509 294.2H2460" stroke="#ee3346" stroke-width="5" stroke-linecap="round" fill="none"/>
</g>
<g clip-path="url(#cr)">
<polyline points="13.0,1265.7 19.2,1265.6 46.3,1265.4 73.4,1265.1 100.6,1264.7 127.7,1264.4 154.8,1264.0 182.0,1269.0 209.1,1274.0 236.2,1280.7 263.4,1287.4 290.5,1294.1 317.6,1300.8 344.8,1305.1 371.9,1309.3 399.0,1311.5 426.2,1313.8 453.3,1312.7 480.4,1311.6 507.5,1307.4 534.7,1303.1 561.8,1296.8 588.9,1290.5 616.1,1284.1 643.2,1278.9 670.3,1273.6 697.5,1267.7 724.6,1261.7 751.7,1255.6 778.9,1249.4 806.0,1244.6 833.1,1239.8 860.3,1242.4 887.4,1245.0 914.5,1247.7 941.7,1250.5 968.8,1252.7 995.9,1255.0 1023.1,1255.5 1050.2,1256.1 1077.3,1253.9 1104.5,1252.3 1131.6,1253.4 1158.7,1255.9 1185.8,1258.4 1213.0,1260.4 1240.1,1262.4 1267.2,1262.6 1294.4,1262.8 1321.5,1263.9 1348.6,1265.1 1375.8,1266.4 1402.9,1267.8 1430.0,1271.2 1457.2,1274.7 1484.3,1276.6 1511.4,1278.5 1538.6,1281.0 1565.7,1283.4 1592.8,1285.4 1620.0,1287.4 1647.1,1289.5 1674.2,1291.6 1701.4,1293.7 1728.5,1295.3 1755.6,1296.8 1782.8,1295.8 1809.9,1294.8 1837.0,1295.1 1864.1,1295.3 1891.3,1296.1 1918.4,1296.8 1945.5,1297.7 1972.7,1298.6 1999.8,1300.4 2026.9,1307.4 2054.1,1314.3 2081.2,1320.5 2108.3,1326.6 2135.5,1332.8 2162.6,1338.9 2189.7,1345.0 2216.9,1348.3" stroke="#f3e98e" stroke-width="2.6" fill="none" stroke-linejoin="round"/>
<polyline points="13,1253.9 19.2,1253.9 46.3,1304.9 73.4,1262.2 100.6,1288.5 127.7,1281.8 154.8,1284.5 182.0,1324.8 209.1,1324.3 236.2,1328.1 263.4,1329.9 290.5,1362.8 317.6,1352.3 344.8,1318.7 371.9,1312.7 399.0,1314.7 426.2,1304.2 453.3,1274 480.4,1228.6 507.5,1238.2 534.7,1230.4 561.8,1239.7 588.9,1230.9 616.1,1254.6 643.2,1240.9 670.3,1274.7 697.5,1263.3 724.6,1230.4 751.7,1235.3 778.9,1230.4 806.0,1223.3 833.1,1234.9 860.3,1250.1 887.4,1284.1 914.5,1272.5 941.7,1275.1 968.8,1276.3 995.9,1266.6 1023.1,1268.4 1050.2,1272.5 1077.3,1208.5 1104.5,1247.9 1131.6,1251.7 1158.7,1256.1 1185.8,1264 1213.0,1271.3 1240.1,1276.3 1267.2,1275.1 1294.4,1274.5 1321.5,1291.5 1348.6,1275.6 1375.8,1300.4 1402.9,1294.1 1430.0,1284.1 1457.2,1291.5 1484.3,1280.7 1511.4,1276.3 1538.6,1290.3 1565.7,1294.6 1592.8,1280.7 1620.0,1305.8 1647.1,1309.2 1674.2,1314.3 1701.4,1306.4 1728.5,1312.7 1755.6,1312.7 1782.8,1280.7 1809.9,1282.3 1837.0,1285.9 1864.1,1289.7 1891.3,1287.4 1918.4,1299.1 1945.5,1292.6 1972.7,1312 1999.8,1333.3 2026.9,1401 2054.1,1407.7 2081.2,1397.6 2108.3,1378.6 2135.5,1385.4 2162.6,1398.2 2189.7,1349 2216.9,1354.8" stroke="#7e6bb5" stroke-width="1.8" fill="none" stroke-linejoin="round"/>
</g>
<rect x="13.5" y="37" width="2532.5" height="1432" fill="none" stroke="#eeeef1" stroke-width="1.6"/>
<path d="M2452 79V1469" stroke="#e0e3eb" stroke-width="1.6" fill="none"/>
<path d="M13 1160.5H2546M13 1432H2546" stroke="#e0e3eb" stroke-width="1.6" fill="none"/>
<g clip-path="url(#ax)"><text x="2463.7" y="87.4" font-size="16.4" fill="#131722" stroke="#131722" textLength="54" lengthAdjust="spacingAndGlyphs">2000.0</text><text x="2463.7" y="132.2" font-size="16.4" fill="#131722" stroke="#131722" textLength="54" lengthAdjust="spacingAndGlyphs">1975.0</text><text x="2463.7" y="177.0" font-size="16.4" fill="#131722" stroke="#131722" textLength="54" lengthAdjust="spacingAndGlyphs">1950.0</text><text x="2463.7" y="221.9" font-size="16.4" fill="#131722" stroke="#131722" textLength="54" lengthAdjust="spacingAndGlyphs">1925.0</text><text x="2463.7" y="266.7" font-size="16.4" fill="#131722" stroke="#131722" textLength="54" lengthAdjust="spacingAndGlyphs">1900.0</text><text x="2463.7" y="311.5" font-size="16.4" fill="#131722" stroke="#131722" textLength="54" lengthAdjust="spacingAndGlyphs">1875.0</text><text x="2463.7" y="356.3" font-size="16.4" fill="#131722" stroke="#131722" textLength="54" lengthAdjust="spacingAndGlyphs">1850.0</text><text x="2463.7" y="401.2" font-size="16.4" fill="#131722" stroke="#131722" textLength="54" lengthAdjust="spacingAndGlyphs">1825.0</text><text x="2463.7" y="446.0" font-size="16.4" fill="#131722" stroke="#131722" textLength="54" lengthAdjust="spacingAndGlyphs">1800.0</text><text x="2463.7" y="490.8" font-size="16.4" fill="#131722" stroke="#131722" textLength="54" lengthAdjust="spacingAndGlyphs">1775.0</text><text x="2463.7" y="535.6" font-size="16.4" fill="#131722" stroke="#131722" textLength="54" lengthAdjust="spacingAndGlyphs">1750.0</text><text x="2463.7" y="580.4" font-size="16.4" fill="#131722" stroke="#131722" textLength="54" lengthAdjust="spacingAndGlyphs">1725.0</text><text x="2463.7" y="625.3" font-size="16.4" fill="#131722" stroke="#131722" textLength="54" lengthAdjust="spacingAndGlyphs">1700.0</text><text x="2463.7" y="670.1" font-size="16.4" fill="#131722" stroke="#131722" textLength="54" lengthAdjust="spacingAndGlyphs">1675.0</text><text x="2463.7" y="714.9" font-size="16.4" fill="#131722" stroke="#131722" textLength="54" lengthAdjust="spacingAndGlyphs">1650.0</text><text x="2463.7" y="759.7" font-size="16.4" fill="#131722" stroke="#131722" textLength="54" lengthAdjust="spacingAndGlyphs">1625.0</text><text x="2463.7" y="804.6" font-size="16.4" fill="#131722" stroke="#131722" textLength="54" lengthAdjust="spacingAndGlyphs">1600.0</text><text x="2463.7" y="849.4" font-size="16.4" fill="#131722" stroke="#131722" textLength="54" lengthAdjust="spacingAndGlyphs">1575.0</text><text x="2463.7" y="894.2" font-size="16.4" fill="#131722" stroke="#131722" textLength="54" lengthAdjust="spacingAndGlyphs">1550.0</text><text x="2463.7" y="939.0" font-size="16.4" fill="#131722" stroke="#131722" textLength="54" lengthAdjust="spacingAndGlyphs">1525.0</text><text x="2463.7" y="983.9" font-size="16.4" fill="#131722" stroke="#131722" textLength="54" lengthAdjust="spacingAndGlyphs">1500.0</text><text x="2463.7" y="1028.7" font-size="16.4" fill="#131722" stroke="#131722" textLength="54" lengthAdjust="spacingAndGlyphs">1475.0</text><text x="2463.7" y="1073.5" font-size="16.4" fill="#131722" stroke="#131722" textLength="54" lengthAdjust="spacingAndGlyphs">1450.0</text><text x="2463.7" y="1118.3" font-size="16.4" fill="#131722" stroke="#131722" textLength="54" lengthAdjust="spacingAndGlyphs">1425.0</text><text x="2463.7" y="1163.1" font-size="16.4" fill="#131722" stroke="#131722" textLength="54" lengthAdjust="spacingAndGlyphs">1400.0</text></g>
<text x="2463.5" y="1194.3" font-size="16.4" fill="#131722" stroke="#131722" textLength="43.5" lengthAdjust="spacingAndGlyphs">70.00</text>
<text x="2463.5" y="1238.2" font-size="16.4" fill="#131722" stroke="#131722" textLength="43.5" lengthAdjust="spacingAndGlyphs">60.00</text>
<text x="2463.5" y="1282.1" font-size="16.4" fill="#131722" stroke="#131722" textLength="43.5" lengthAdjust="spacingAndGlyphs">50.00</text>
<text x="2463.5" y="1326.0" font-size="16.4" fill="#131722" stroke="#131722" textLength="43.5" lengthAdjust="spacingAndGlyphs">40.00</text>
<text x="2463.5" y="1369.9" font-size="16.4" fill="#131722" stroke="#131722" textLength="43.5" lengthAdjust="spacingAndGlyphs">30.00</text>
<text x="2463.5" y="1413.8" font-size="16.4" fill="#131722" stroke="#131722" textLength="43.5" lengthAdjust="spacingAndGlyphs">20.00</text>
<rect x="2451" y="38" width="94" height="40.5" fill="#ffffff"/>
<rect x="2457" y="41" width="85" height="33" rx="4" fill="#ffffff" stroke="#eeeef0" stroke-width="1.2"/>
<text x="2470" y="63.5" font-size="16.4" fill="#131722" stroke="#131722">USD</text>
<rect x="2451" y="283" width="74.5" height="22.5" rx="2.5" fill="#ee3346"/>
<text x="2463.5" y="300.3" font-size="16.4" fill="#ffffff" textLength="53.5" lengthAdjust="spacingAndGlyphs">1881.2</text>
<path d="M2375.6 664.6H2450V687.7H2375.6A4 4 0 0 1 2371.6 683.7V668.6A4 4 0 0 1 2375.6 664.6Z" fill="#ef5350"/>
<text x="2378.4" y="682.4" font-size="16" fill="#ffffff" textLength="64.8" lengthAdjust="spacingAndGlyphs">ETHUSD</text>
<path d="M2451.7 664.6H2536.6A4 4 0 0 1 2540.6 668.6V702.1A4 4 0 0 1 2536.6 706.1H2451.7Z" fill="#ef5350"/>
<text x="2464" y="682" font-size="16.4" fill="#ffffff" textLength="53.4" lengthAdjust="spacingAndGlyphs">1668.0</text>
<text x="2464" y="701.6" font-size="16.4" fill="#ffffff" textLength="69" lengthAdjust="spacingAndGlyphs">14:10:16</text>
<text x="73.4" y="1457.5" font-size="16.5" fill="#131722" stroke="#131722" text-anchor="middle">6</text>
<text x="236.2" y="1457.5" font-size="16.5" fill="#131722" stroke="#131722" text-anchor="middle">12</text>
<text x="426.2" y="1457.5" font-size="16.5" fill="#131722" stroke="#131722" text-anchor="middle">19</text>
<text x="616.1" y="1457.5" font-size="16.5" fill="#131722" stroke="#131722" text-anchor="middle">26</text>
<text x="751.7" y="1457.5" font-size="16.5" fill="#131722" stroke="#131722" text-anchor="middle" font-weight="bold">Jul</text>
<text x="995.9" y="1457.5" font-size="16.5" fill="#131722" stroke="#131722" text-anchor="middle">10</text>
<text x="1185.8" y="1457.5" font-size="16.5" fill="#131722" stroke="#131722" text-anchor="middle">17</text>
<text x="1375.8" y="1457.5" font-size="16.5" fill="#131722" stroke="#131722" text-anchor="middle">24</text>
<text x="1592.8" y="1457.5" font-size="16.5" fill="#131722" stroke="#131722" text-anchor="middle" font-weight="bold">Aug</text>
<text x="1755.6" y="1457.5" font-size="16.5" fill="#131722" stroke="#131722" text-anchor="middle">7</text>
<text x="1945.5" y="1457.5" font-size="16.5" fill="#131722" stroke="#131722" text-anchor="middle">14</text>
<text x="2135.5" y="1457.5" font-size="16.5" fill="#131722" stroke="#131722" text-anchor="middle">21</text>
<text x="2271.1" y="1457.5" font-size="16.5" fill="#131722" stroke="#131722" text-anchor="middle">26</text>
<text x="2433.9" y="1457.5" font-size="16.5" fill="#131722" stroke="#131722" text-anchor="middle" font-weight="bold">Sep</text>
<text x="24.8" y="66.4" font-size="16" fill="#131722" stroke="#131722" textLength="283.4" lengthAdjust="spacingAndGlyphs">Ethereum / U.S. Dollar, 1D, BITSTAMP</text>
<text x="319" y="66.4" font-size="16" fill="#131722" stroke="#131722" textLength="11.7" lengthAdjust="spacingAndGlyphs">O</text>
<text x="333.4" y="66.4" font-size="16" fill="#ec5b5b" textLength="47.8" lengthAdjust="spacingAndGlyphs">1679.7</text>
<text x="391.3" y="66.4" font-size="16" fill="#131722" stroke="#131722" textLength="10.6" lengthAdjust="spacingAndGlyphs">H</text>
<text x="405" y="66.4" font-size="16" fill="#ec5b5b" textLength="49.6" lengthAdjust="spacingAndGlyphs">1682.9</text>
<text x="465.1" y="66.4" font-size="16" fill="#131722" stroke="#131722" textLength="8" lengthAdjust="spacingAndGlyphs">L</text>
<text x="475.7" y="66.4" font-size="16" fill="#ec5b5b" textLength="49.1" lengthAdjust="spacingAndGlyphs">1666.9</text>
<text x="536.3" y="66.4" font-size="16" fill="#131722" stroke="#131722" textLength="9.6" lengthAdjust="spacingAndGlyphs">C</text>
<text x="548.5" y="66.4" font-size="16" fill="#ec5b5b" textLength="50.1" lengthAdjust="spacingAndGlyphs">1668.0</text>
<text x="608.3" y="66.4" font-size="16" fill="#ec5b5b" textLength="38.6" lengthAdjust="spacingAndGlyphs">−11.5</text>
<text x="653.1" y="66.4" font-size="16" fill="#ec5b5b" textLength="70.2" lengthAdjust="spacingAndGlyphs">(−0.68%)</text>
<text x="24.8" y="89.5" font-size="16" fill="#131722" stroke="#131722" textLength="68.6" lengthAdjust="spacingAndGlyphs">Vol · ETH</text>
<text x="103.8" y="89.5" font-size="16" fill="#ec5b5b" textLength="51.1" lengthAdjust="spacingAndGlyphs">1.333K</text>
<text x="24.8" y="112.6" font-size="16" fill="#131722" stroke="#131722" textLength="193.2" lengthAdjust="spacingAndGlyphs">MA (30, close, 0, SMA, 5)</text>
<text x="229.1" y="112.6" font-size="16" fill="#ebc24d" textLength="49.5" lengthAdjust="spacingAndGlyphs">1799.7</text>
<text x="24.8" y="135.2" font-size="16" fill="#131722" stroke="#131722" textLength="203.5" lengthAdjust="spacingAndGlyphs">MA (200, close, 0, SMA, 5)</text>
<text x="239.5" y="135.2" font-size="16" fill="#3b3bc9" textLength="49.5" lengthAdjust="spacingAndGlyphs">1799.8</text>
<text x="25" y="1192" font-size="16" fill="#131722" stroke="#131722" textLength="198.6" lengthAdjust="spacingAndGlyphs">RSI (14, close, SMA, 14, 2)</text>
<text x="234.5" y="1192" font-size="16" fill="#8174c2" textLength="40.5" lengthAdjust="spacingAndGlyphs">32.12</text>
<text x="286.5" y="1192" font-size="16" fill="#f0e27a" textLength="40.5" lengthAdjust="spacingAndGlyphs">33.38</text>
<circle cx="344.6" cy="1187.6" r="3.4" fill="none" stroke="#131722" stroke-width="1.5"/>
<path d="M340.40000000000003 1192L348.8 1183.2" stroke="#131722" stroke-width="1.4"/>
<circle cx="365.2" cy="1187.6" r="3.4" fill="none" stroke="#131722" stroke-width="1.5"/>
<path d="M361.0 1192L369.4 1183.2" stroke="#131722" stroke-width="1.4"/>
<circle cx="2216.8" cy="1108.9" r="12.9" fill="#ffffff" stroke="#85389f" stroke-width="2.2"/>
<path d="M2221.2 1101L2210.8 1109.8L2216 1109.8L2212.6 1116.4L2222.8 1107.4L2217.6 1107.4Z" fill="#9036b8"/>
<circle cx="2215.8" cy="1142.2" r="13.2" fill="#ffffff" stroke="#bf3540" stroke-width="2"/><clipPath id="f2215"><circle cx="2215.8" cy="1142.2" r="10.6"/></clipPath><g clip-path="url(#f2215)"><rect x="2204.8" y="1135.2" width="22" height="3.4" fill="#f6c9c9"/><rect x="2204.8" y="1139.0" width="22" height="5.8" fill="#e8413f"/><rect x="2204.8" y="1148.1000000000001" width="22" height="3.4" fill="#e8413f"/><rect x="2204.8" y="1131.2" width="15.7" height="13.6" fill="#2f7fd8"/><circle cx="2208.3" cy="1134.7" r="1" fill="#8fd3ff"/><circle cx="2208.3" cy="1137.7" r="1" fill="#8fd3ff"/><circle cx="2208.3" cy="1140.7" r="1" fill="#8fd3ff"/><circle cx="2211.3" cy="1134.7" r="1" fill="#8fd3ff"/><circle cx="2211.3" cy="1137.7" r="1" fill="#8fd3ff"/><circle cx="2211.3" cy="1140.7" r="1" fill="#8fd3ff"/><circle cx="2214.3" cy="1134.7" r="1" fill="#8fd3ff"/><circle cx="2214.3" cy="1137.7" r="1" fill="#8fd3ff"/><circle cx="2214.3" cy="1140.7" r="1" fill="#8fd3ff"/><circle cx="2217.3" cy="1134.7" r="1" fill="#8fd3ff"/><circle cx="2217.3" cy="1137.7" r="1" fill="#8fd3ff"/><circle cx="2217.3" cy="1140.7" r="1" fill="#8fd3ff"/></g>
<circle cx="2244.6" cy="1142.2" r="13.2" fill="#ffffff" stroke="#bf3540" stroke-width="2"/><clipPath id="f2244"><circle cx="2244.6" cy="1142.2" r="10.6"/></clipPath><g clip-path="url(#f2244)"><rect x="2233.6" y="1135.2" width="22" height="3.4" fill="#f6c9c9"/><rect x="2233.6" y="1139.0" width="22" height="5.8" fill="#e8413f"/><rect x="2233.6" y="1148.1000000000001" width="22" height="3.4" fill="#e8413f"/><rect x="2233.6" y="1131.2" width="15.7" height="13.6" fill="#2f7fd8"/><circle cx="2237.1" cy="1134.7" r="1" fill="#8fd3ff"/><circle cx="2237.1" cy="1137.7" r="1" fill="#8fd3ff"/><circle cx="2237.1" cy="1140.7" r="1" fill="#8fd3ff"/><circle cx="2240.1" cy="1134.7" r="1" fill="#8fd3ff"/><circle cx="2240.1" cy="1137.7" r="1" fill="#8fd3ff"/><circle cx="2240.1" cy="1140.7" r="1" fill="#8fd3ff"/><circle cx="2243.1" cy="1134.7" r="1" fill="#8fd3ff"/><circle cx="2243.1" cy="1137.7" r="1" fill="#8fd3ff"/><circle cx="2243.1" cy="1140.7" r="1" fill="#8fd3ff"/><circle cx="2246.1" cy="1134.7" r="1" fill="#8fd3ff"/><circle cx="2246.1" cy="1137.7" r="1" fill="#8fd3ff"/><circle cx="2246.1" cy="1140.7" r="1" fill="#8fd3ff"/></g>
<circle cx="2352.4" cy="1142.2" r="13.2" fill="#ffffff" stroke="#bf3540" stroke-width="2"/><clipPath id="f2352"><circle cx="2352.4" cy="1142.2" r="10.6"/></clipPath><g clip-path="url(#f2352)"><rect x="2341.4" y="1135.2" width="22" height="3.4" fill="#f6c9c9"/><rect x="2341.4" y="1139.0" width="22" height="5.8" fill="#e8413f"/><rect x="2341.4" y="1148.1000000000001" width="22" height="3.4" fill="#e8413f"/><rect x="2341.4" y="1131.2" width="15.7" height="13.6" fill="#2f7fd8"/><circle cx="2344.9" cy="1134.7" r="1" fill="#8fd3ff"/><circle cx="2344.9" cy="1137.7" r="1" fill="#8fd3ff"/><circle cx="2344.9" cy="1140.7" r="1" fill="#8fd3ff"/><circle cx="2347.9" cy="1134.7" r="1" fill="#8fd3ff"/><circle cx="2347.9" cy="1137.7" r="1" fill="#8fd3ff"/><circle cx="2347.9" cy="1140.7" r="1" fill="#8fd3ff"/><circle cx="2350.9" cy="1134.7" r="1" fill="#8fd3ff"/><circle cx="2350.9" cy="1137.7" r="1" fill="#8fd3ff"/><circle cx="2350.9" cy="1140.7" r="1" fill="#8fd3ff"/><circle cx="2353.9" cy="1134.7" r="1" fill="#8fd3ff"/><circle cx="2353.9" cy="1137.7" r="1" fill="#8fd3ff"/><circle cx="2353.9" cy="1140.7" r="1" fill="#8fd3ff"/></g>
<path d="M13.5 1486.1H23.6V1499H18.8V1490.7H13.5Z" fill="#131722"/>
<circle cx="28.5" cy="1488.9" r="2.5" fill="#131722"/>
<path d="M34.6 1486.1H39.8L34.8 1499H29.3Z" fill="#131722"/>
<text x="45.5" y="1499.1" font-size="17.3" fill="#131722" stroke="#131722" textLength="99.8" lengthAdjust="spacingAndGlyphs">TradingView</text>
</svg>
</body></html>
